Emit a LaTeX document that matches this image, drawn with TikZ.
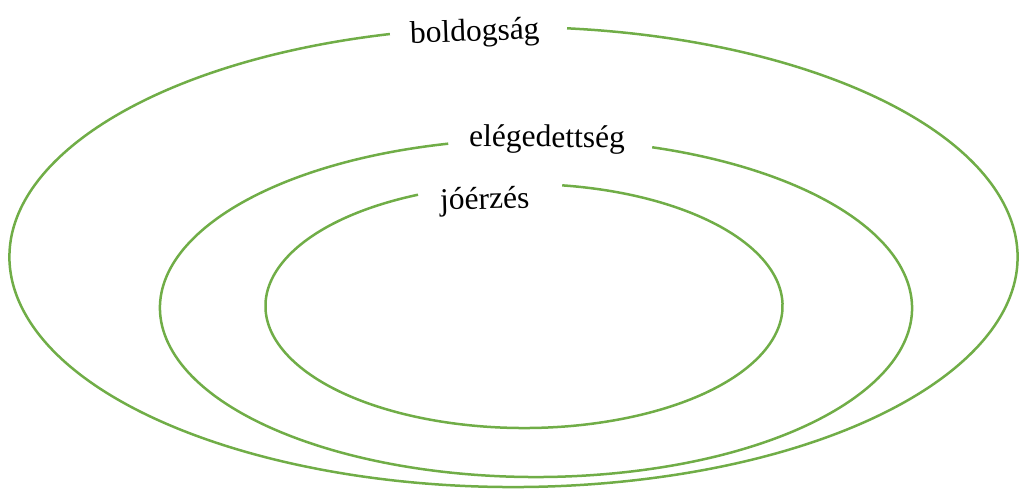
\documentclass[tikz,border=0pt]{standalone}
\usepackage{fontspec}
\setmainfont{Liberation Serif}
\definecolor{ringgreen}{HTML}{70AD47}
\begin{document}
\begin{tikzpicture}[x=1pt,y=1pt,
  ring/.style={draw=ringgreen, line width=2.5pt},
  ringlabel/.style={anchor=base, inner sep=0pt, font=\fontsize{31.5}{36}\selectfont}]
\useasboundingbox (0,0) rectangle (1019,488);
% centres
\coordinate (co) at (513.5,231);
\coordinate (cm) at (536,180);
\coordinate (ci) at (524,182);
% outer ring
\draw[ring] ([shift={(104.2:504pt and 230pt)}]co) arc[start angle=104.2, end angle=443.9, x radius=504pt, y radius=230pt];
% middle ring
\draw[ring] ([shift={(103.5:376pt and 169pt)}]cm) arc[start angle=103.5, end angle=432.0, x radius=376pt, y radius=169pt];
% inner ring
\draw[ring] ([shift={(114.2:258.5pt and 122pt)}]ci) arc[start angle=114.2, end angle=441.5, x radius=258.5pt, y radius=122pt];
% labels
\node[ringlabel, rotate=2] (lo) at (475,447) {boldogság};
\node[ringlabel, rotate=-0.5] (lm) at (547,341) {elégedettség};
\node[ringlabel, rotate=1.5] (li) at (485,279) {jóérzés};
\end{tikzpicture}
\end{document}
